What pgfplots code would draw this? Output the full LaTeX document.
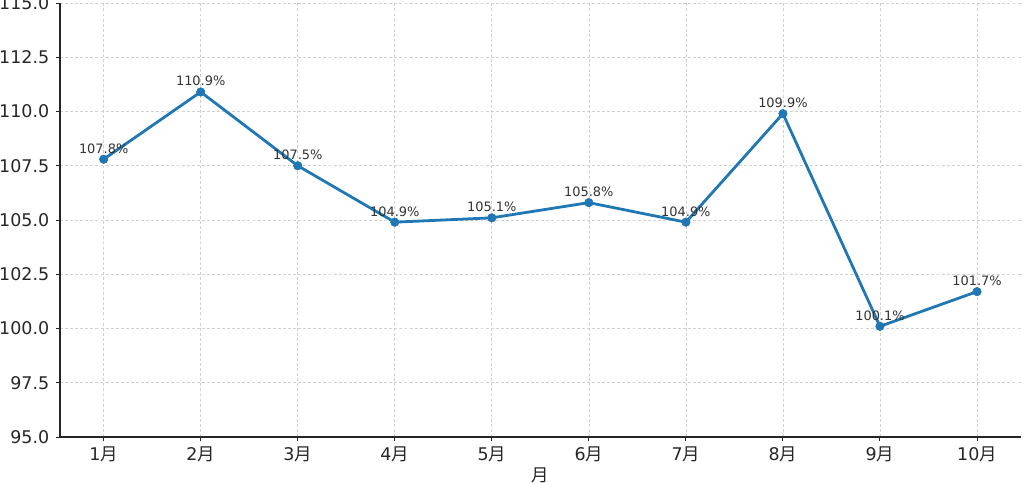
\documentclass[border=0pt]{standalone}
\usepackage{fontspec}
\setmainfont{DejaVu Sans}
\newfontfamily\cjk{Noto Sans CJK SC}
\usepackage{pgfplots}
\pgfplotsset{compat=1.18}
\definecolor{mplblue}{RGB}{31,119,180}
\definecolor{tickgray}{RGB}{38,38,38}
\definecolor{anngray}{RGB}{51,51,51}
\begin{document}
\begin{tikzpicture}
\useasboundingbox (0,0) rectangle (768pt,361.5pt);
\begin{axis}[
  at={(45pt,33.75pt)}, anchor=south west,
  scale only axis, width=720.5pt, height=325.5pt,
  xmin=0.55, xmax=10.45, ymin=95, ymax=115,
  xtick={1,...,10},
  xticklabels={1{\cjk 月},2{\cjk 月},3{\cjk 月},4{\cjk 月},5{\cjk 月},6{\cjk 月},7{\cjk 月},8{\cjk 月},9{\cjk 月},10{\cjk 月}},
  ytick={95,97.5,...,115},
  yticklabel style={/pgf/number format/fixed, /pgf/number format/fixed zerofill, /pgf/number format/precision=1, /pgf/number format/assume math mode=true},
  axis lines*=left,
  axis line style={-, draw=tickgray, line width=0.95pt},
  tick align=outside, major tick length=2.7pt,
  tick style={draw=tickgray, line width=0.7pt},
  grid=major,
  major grid style={draw=black!18, line width=0.5pt, dash pattern=on 2.2pt off 1.6pt},
  ticklabel style={font=\fontsize{13.1}{15}\selectfont, text=tickgray, inner sep=0pt},
  xticklabel style={anchor=north, text height=9.5pt, yshift=-5.2pt},
  yticklabel style={anchor=east, xshift=-5.2pt},
  xlabel={\cjk 月},
  xlabel style={at={(axis description cs:0.5,0)}, anchor=north, yshift=-23.2pt, inner sep=0pt, font=\fontsize{13.1}{15}\selectfont, text=tickgray},
  nodes near coords={\pgfmathprintnumber[fixed,fixed zerofill,precision=1,assume math mode=true]{\pgfplotspointmeta}\%},
  every node near coord/.append style={font=\fontsize{9.7}{11}\selectfont, text=anngray, anchor=base, inner sep=0pt, yshift=4.5pt},
  clip=false,
]
\addplot[color=mplblue, line width=2.1pt, mark=*, mark size=3.2pt, mark options={solid, fill=mplblue, draw=mplblue, line width=0.4pt}]
coordinates {(1,107.8) (2,110.9) (3,107.5) (4,104.9) (5,105.1) (6,105.8) (7,104.9) (8,109.9) (9,100.1) (10,101.7)};
\end{axis}
\end{tikzpicture}
\end{document}
